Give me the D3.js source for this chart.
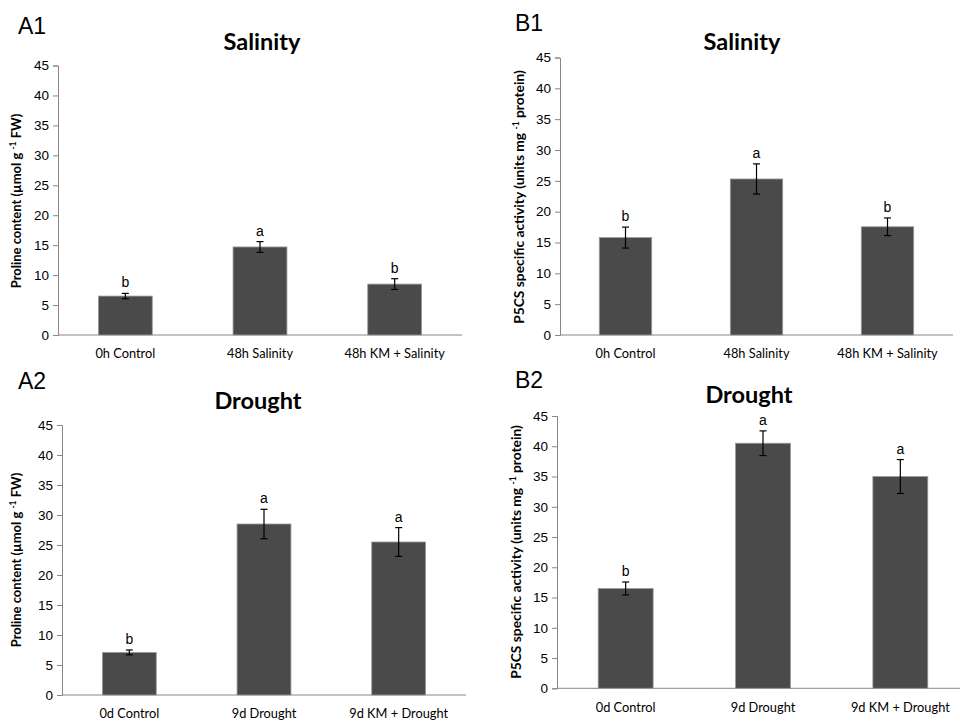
<!DOCTYPE html>
<html>
<head>
<meta charset="utf-8">
<script src="https://cdn.jsdelivr.net/npm/d3@7"></script>
<style>
  html, body { margin: 0; padding: 0; background: #fff; }
  svg { display: block; }
</style>
</head>
<body>
<svg id="chart" width="960" height="722"></svg>
<script>
// ---------- data ----------
const salinityCategories = ["0h Control", "48h Salinity", "48h KM + Salinity"];
const droughtCategories = ["0d Control", "9d Drought", "9d KM + Drought"];
const yTicks = [0, 5, 10, 15, 20, 25, 30, 35, 40, 45];

const a1Values = [6.5, 14.7, 8.5];
const a1Errors = [0.45, 0.9, 0.9];
const a1Letters = ["b", "a", "b"];

const b1Values = [15.8, 25.3, 17.55];
const b1Errors = [1.7, 2.45, 1.43];
const b1Letters = ["b", "a", "b"];

const a2Values = [7.1, 28.5, 25.5];
const a2Errors = [0.4, 2.45, 2.4];
const a2Letters = ["b", "a", "a"];

const b2Values = [16.5, 40.5, 35.0];
const b2Errors = [1.07, 2.04, 2.8];
const b2Letters = ["b", "a", "a"];

const prolineLabel = ["Proline content (µmol g", "-1", " FW)"];
const p5csLabel = ["P5CS specific activity (units mg", "-1", " protein)"];

// ---------- layout ----------
const panels = [
  { id: "A1", title: "Salinity", cats: salinityCategories, vals: a1Values, errs: a1Errors, letters: a1Letters, ylab: prolineLabel, ylabSize: 13,
    ax: 58, axEnd: 462, yTop: 65.5, yBot: 335, titleX: 262, titleY: 50, idX: 18, idY: 34, ylabX: 21, ylabY: 201, xlabY: 358 },
  { id: "B1", title: "Salinity", cats: salinityCategories, vals: b1Values, errs: b1Errors, letters: b1Letters, ylab: p5csLabel, ylabSize: 13.8,
    ax: 560, axEnd: 953, yTop: 57.5, yBot: 335, titleX: 742, titleY: 50, idX: 515, idY: 31, ylabX: 524, ylabY: 197, xlabY: 358 },
  { id: "A2", title: "Drought", cats: droughtCategories, vals: a2Values, errs: a2Errors, letters: a2Letters, ylab: prolineLabel, ylabSize: 13,
    ax: 62, axEnd: 466, yTop: 425, yBot: 695, titleX: 258, titleY: 409, idX: 18, idY: 389, ylabX: 21, ylabY: 560, xlabY: 718 },
  { id: "B2", title: "Drought", cats: droughtCategories, vals: b2Values, errs: b2Errors, letters: b2Letters, ylab: p5csLabel, ylabSize: 13.8,
    ax: 557, axEnd: 969, yTop: 416, yBot: 688.3, titleX: 749, titleY: 403, idX: 515, idY: 388, ylabX: 521, ylabY: 552, xlabY: 712 }
];

const svg = d3.select("#chart");
const axisColor = "#878787";
const barColor = "#4a4a4a";
const sansUI = "Lato, 'Open Sans', sans-serif";
const arial = "'Liberation Sans', Arial, sans-serif";

panels.forEach(p => {
  const g = svg.append("g");
  const y = d3.scaleLinear().domain([0, 45]).range([p.yBot, p.yTop]);
  const x = d3.scaleBand().domain(p.cats).range([p.ax, p.axEnd]).paddingInner(0.6).paddingOuter(0.3);

  // panel id
  g.append("text").attr("x", p.idX).attr("y", p.idY)
    .attr("font-family", arial).attr("font-size", 23).attr("fill", "#000").text(p.id);

  // title
  g.append("text").attr("x", p.titleX).attr("y", p.titleY).attr("text-anchor", "middle")
    .attr("font-family", sansUI).attr("font-weight", "bold").attr("font-size", 23.5).attr("fill", "#000").text(p.title);

  // y axis
  const yAxis = d3.axisLeft(y).tickValues(yTicks).tickSize(5).tickPadding(4);
  const ya = g.append("g").attr("transform", `translate(${p.ax},0)`).call(yAxis);
  ya.select(".domain").attr("stroke", axisColor);
  ya.selectAll(".tick line").attr("stroke", axisColor);
  ya.selectAll(".tick text").attr("font-family", arial).attr("font-size", 13.5).attr("fill", "#000");

  // x axis
  const xAxis = d3.axisBottom(x).tickSize(0).tickPadding(0);
  const xa = g.append("g").attr("transform", `translate(0,${p.yBot})`).call(xAxis);
  xa.select(".domain").attr("stroke", axisColor).attr("d", `M${p.ax},0H${p.axEnd}`);
  xa.selectAll(".tick text").attr("font-family", sansUI).attr("font-size", 12.8).attr("fill", "#000")
    .attr("dy", null).attr("y", p.xlabY - p.yBot);

  // bars
  const data = p.cats.map((c, i) => ({ c, v: p.vals[i], e: p.errs[i], l: p.letters[i] }));
  g.selectAll("rect.bar").data(data).join("rect").attr("class", "bar")
    .attr("x", d => x(d.c)).attr("width", x.bandwidth())
    .attr("y", d => y(d.v)).attr("height", d => y(0) - y(d.v))
    .attr("fill", barColor).attr("stroke", "#9a9a9a").attr("stroke-width", 0.8);

  // error bars
  const cap = 3.5;
  const eg = g.selectAll("g.err").data(data).join("g").attr("class", "err");
  eg.append("line").attr("x1", d => x(d.c) + x.bandwidth() / 2).attr("x2", d => x(d.c) + x.bandwidth() / 2)
    .attr("y1", d => y(d.v + d.e)).attr("y2", d => y(d.v - d.e)).attr("stroke", "#000").attr("stroke-width", 1.2);
  eg.append("line").attr("x1", d => x(d.c) + x.bandwidth() / 2 - cap).attr("x2", d => x(d.c) + x.bandwidth() / 2 + cap)
    .attr("y1", d => y(d.v + d.e)).attr("y2", d => y(d.v + d.e)).attr("stroke", "#000").attr("stroke-width", 1.2);
  eg.append("line").attr("x1", d => x(d.c) + x.bandwidth() / 2 - cap).attr("x2", d => x(d.c) + x.bandwidth() / 2 + cap)
    .attr("y1", d => y(d.v - d.e)).attr("y2", d => y(d.v - d.e)).attr("stroke", "#000").attr("stroke-width", 1.2);

  // letters
  g.selectAll("text.sig").data(data).join("text").attr("class", "sig")
    .attr("x", d => x(d.c) + x.bandwidth() / 2).attr("y", d => y(d.v + d.e) - 6)
    .attr("text-anchor", "middle").attr("font-family", arial).attr("font-size", 14).attr("fill", "#000")
    .text(d => d.l);

  // y label
  const yl = g.append("text").attr("transform", `translate(${p.ylabX},${p.ylabY}) rotate(-90)`)
    .attr("text-anchor", "middle").attr("font-family", sansUI).attr("font-weight", "bold")
    .attr("font-size", p.ylabSize).attr("fill", "#000");
  yl.append("tspan").text(p.ylab[0] + " ");
  yl.append("tspan").attr("font-size", 8.5).attr("dy", -5).text(p.ylab[1]);
  yl.append("tspan").attr("dy", 5).text(p.ylab[2]);
});
</script>
</body>
</html>
